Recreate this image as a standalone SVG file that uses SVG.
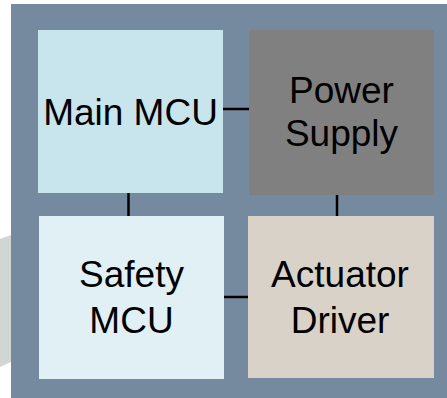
<svg xmlns="http://www.w3.org/2000/svg" width="447" height="398" viewBox="0 0 447 398">
  <style>
    .lbl { font-family: "Liberation Sans", Arial, sans-serif; font-size: 37px; fill: #000; text-anchor: middle; }
    .wire { stroke: #000; stroke-width: 2.5; fill: none; }
  </style>
  <rect width="447" height="398" fill="#ffffff"/>
  <!-- backdrop shape peeking out on the left -->
  <polygon points="0,239 11,235 11,362 0,367" fill="#d0d7d2"/>
  <!-- enclosure -->
  <rect x="11" y="4" width="436" height="394" fill="#768a9f"/>
  <g id="connectors">
    <line class="wire" x1="223" y1="109" x2="249" y2="109"/>
    <line class="wire" x1="128.5" y1="193" x2="128.5" y2="216"/>
    <line class="wire" x1="337" y1="195" x2="337" y2="216"/>
    <line class="wire" x1="224" y1="297" x2="248" y2="297"/>
  </g>
  <g id="main-mcu">
    <rect x="38" y="30" width="185" height="163" fill="#c8e4ec"/>
    <text class="lbl" x="130.5" y="125">Main MCU</text>
  </g>
  <g id="power-supply">
    <rect x="249" y="30" width="185" height="165" fill="#808080"/>
    <text class="lbl" x="341.5" y="103">Power</text>
    <text class="lbl" x="341.5" y="146">Supply</text>
  </g>
  <g id="safety-mcu">
    <rect x="39" y="216" width="185" height="163" fill="#e0f0f5"/>
    <text class="lbl" x="131.5" y="287">Safety</text>
    <text class="lbl" x="131.5" y="333">MCU</text>
  </g>
  <g id="actuator-driver">
    <rect x="248" y="216" width="186" height="162" fill="#d9d2c8"/>
    <text class="lbl" x="340" y="287">Actuator</text>
    <text class="lbl" x="340" y="333">Driver</text>
  </g>
</svg>
